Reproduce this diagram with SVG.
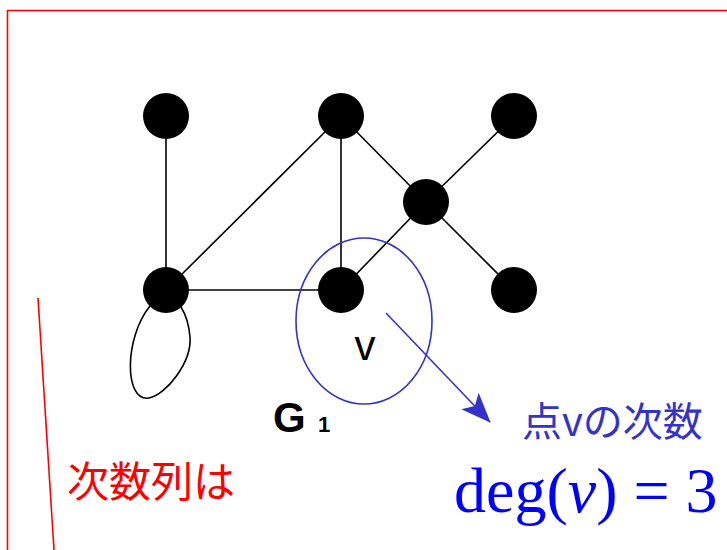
<svg xmlns="http://www.w3.org/2000/svg" width="727" height="550" viewBox="0 0 727 550">
<defs>
<style>
.node{fill:#000}
.edge{stroke:#000;stroke-width:1.6;fill:none}
.red{stroke:#ff0000;stroke-width:1.6;fill:none}
.blue{stroke:#3333cc;stroke-width:1.6;fill:none}
</style>
<marker id="arr" viewBox="0 0 30 30" refX="29" refY="15" markerWidth="30" markerHeight="30" markerUnits="userSpaceOnUse" orient="auto">
<path d="M0,3 L30,15 L0,27 L7,15 Z" fill="#3333cc"/>
</marker>
</defs>
<rect width="727" height="550" fill="#fff"/>
<g id="frame">
<path class="red" d="M7.5,550 L7.5,10.5 L727,10.5"/>
<line class="red" x1="38" y1="298" x2="54" y2="550"/>
</g>
<g id="connectors">
<line class="edge" x1="166" y1="116" x2="166" y2="290"/>
<line class="edge" x1="341" y1="116" x2="166" y2="290"/>
<line class="edge" x1="341" y1="116" x2="341" y2="290"/>
<line class="edge" x1="341" y1="116" x2="426" y2="202"/>
<line class="edge" x1="514" y1="116" x2="426" y2="202"/>
<line class="edge" x1="426" y1="202" x2="514" y2="290"/>
<line class="edge" x1="426" y1="202" x2="341" y2="290"/>
<line class="edge" x1="166" y1="290" x2="341" y2="290"/>
<path class="edge" d="M150,306 C124,338 124,402 149,398 C166,395 192,362 190,337 C189,325 186,315 181,307"/>
<line class="blue" x1="386" y1="313" x2="490" y2="422" marker-end="url(#arr)"/>
</g>
<g id="n1"><circle class="node" cx="166" cy="116" r="23"/></g>
<g id="n2"><circle class="node" cx="341" cy="116" r="23"/></g>
<g id="n3"><circle class="node" cx="514" cy="116" r="23"/></g>
<g id="n4"><circle class="node" cx="426" cy="202" r="23"/></g>
<g id="n5"><circle class="node" cx="166" cy="290" r="23"/></g>
<g id="n6"><circle class="node" cx="341" cy="290" r="23"/></g>
<g id="n7"><circle class="node" cx="514" cy="290" r="23"/></g>
<g id="highlight">
<ellipse class="blue" cx="364" cy="321" rx="68" ry="83"/>
<text x="365" y="360" font-family="'Liberation Sans', Arial, sans-serif" font-size="42" text-anchor="middle" fill="#000">v</text>
</g>
<g id="labels">
<text x="273" y="432" font-family="'Liberation Sans', Arial, sans-serif" font-size="42" font-weight="bold" fill="#000">G<tspan x="318" font-size="22">1</tspan></text>
<text x="522" y="436" font-family="'Noto Sans CJK JP', sans-serif" font-size="40" fill="#3333cc">点vの次数</text>
<text x="454" y="512" font-family="'Liberation Serif', 'Times New Roman', serif" font-size="64" fill="#0000ff">deg(<tspan font-style="italic">v</tspan>) = 3</text>
<text x="67" y="497" font-family="'Noto Sans CJK JP', sans-serif" font-size="42" fill="#ff0000">次数列は</text>
</g>
</svg>
